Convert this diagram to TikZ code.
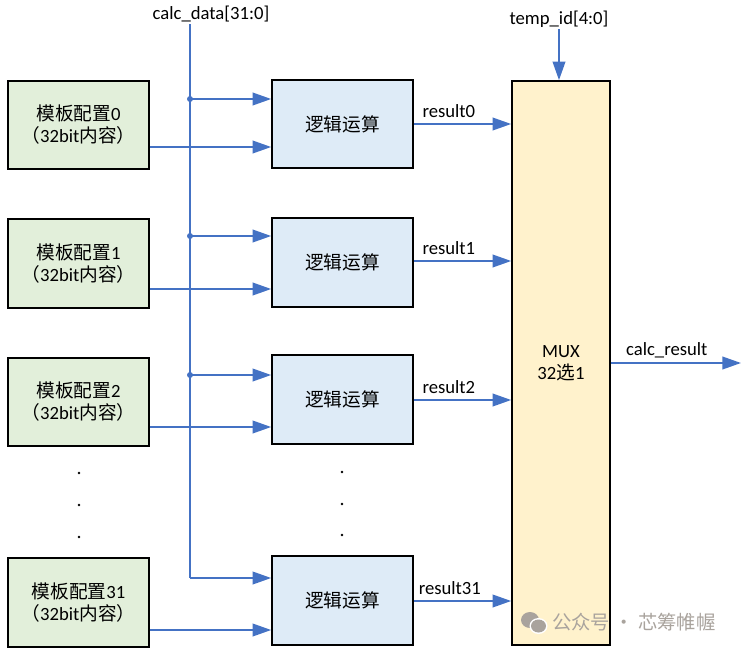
\documentclass[tikz,border=0pt]{standalone}
\usepackage{fontspec}
\setmainfont{Carlito}
\newfontfamily\cjk{Noto Sans CJK SC}
\usetikzlibrary{arrows.meta}
\definecolor{lineblue}{HTML}{4472C4}
\definecolor{cfgfill}{HTML}{E2EFDA}
\definecolor{opfill}{HTML}{DEEBF7}
\definecolor{muxfill}{HTML}{FFF2CC}
\definecolor{wmgray}{HTML}{A9A39D}
\tikzset{
  cfgbox/.style={draw=black, line width=1.2pt, fill=cfgfill, minimum width=105.75pt, minimum height=66.4pt, inner sep=0pt, align=center, font=\fontsize{14}{16.5}\selectfont},
  opbox/.style={draw=black, line width=1.2pt, fill=opfill, minimum width=105.75pt, minimum height=66.4pt, inner sep=0pt, align=center, font=\fontsize{14}{16.5}\selectfont},
  muxbox/.style={draw=black, line width=1.2pt, fill=muxfill, minimum width=73.5pt, minimum height=423pt, inner sep=0pt, align=center, font=\fontsize{14}{16.5}\selectfont},
  sig/.style={draw=lineblue, line width=1.4pt},
  arr/.style={draw=lineblue, line width=1.4pt, -{Triangle[length=14pt,width=9.5pt]}},
  lbl/.style={font=\fontsize{14}{16}\selectfont, inner sep=1pt},
  jdot/.style={circle, fill=lineblue, inner sep=0pt, minimum size=4.5pt},
  vdot/.style={circle, fill=black, inner sep=0pt, minimum size=2.2pt}
}
\begin{document}
\begin{tikzpicture}[x={(0.75pt,0)}, y={(0,-0.75pt)}]
\useasboundingbox (0,0) rectangle (742,653);

% configuration boxes
\node[cfgbox] (g0) at (78.5,125) {{\cjk 模板配置}0\\{\cjk （}32bit{\cjk 内容）}};
\node[cfgbox] (g1) at (78.5,263.5) {{\cjk 模板配置}1\\{\cjk （}32bit{\cjk 内容）}};
\node[cfgbox] (g2) at (78.5,402) {{\cjk 模板配置}2\\{\cjk （}32bit{\cjk 内容）}};
\node[cfgbox] (g31) at (78.5,602.5) {{\cjk 模板配置}31\\{\cjk （}32bit{\cjk 内容）}};

% logic boxes
\node[opbox] (m0) at (342.5,124) {\cjk 逻辑运算};
\node[opbox] (m1) at (342.5,262.5) {\cjk 逻辑运算};
\node[opbox] (m2) at (342.5,399.5) {\cjk 逻辑运算};
\node[opbox] (m31) at (342.5,600.5) {\cjk 逻辑运算};

% mux
\node[muxbox] (mux) at (561,363) {MUX\\32{\cjk 选}1};

% vertical dots
\node[vdot] (ld1) at (79,473) {};
\node[vdot] (ld2) at (79,505) {};
\node[vdot] (ld3) at (79,537) {};
\node[vdot] (md1) at (342,472) {};
\node[vdot] (md2) at (342,504) {};
\node[vdot] (md3) at (342,535) {};

% calc_data bus
\node[lbl] (cd) at (211,14) {calc\_data[31:0]};
\coordinate (bustop) at (190,24);
\coordinate (busbot) at (190,578);
\draw[sig] (bustop) -- (busbot);
\draw[arr] (busbot) -- (m31.west |- busbot);
\node[jdot] (j0) at (190,99) {};
\node[jdot] (j1) at (190,236) {};
\node[jdot] (j2) at (190,375) {};
\draw[arr] (j0.center) -- (m0.west |- j0);
\draw[arr] (j1.center) -- (m1.west |- j1);
\draw[arr] (j2.center) -- (m2.west |- j2);

% config -> logic
\draw[arr] (g0.east |- 0,147) -- (m0.west |- 0,147);
\draw[arr] (g1.east |- 0,289) -- (m1.west |- 0,289);
\draw[arr] (g2.east |- 0,427) -- (m2.west |- 0,427);
\draw[arr] (g31.east |- 0,630) -- (m31.west |- 0,630);

% results
\draw[arr] (m0.east |- 0,124) -- (mux.west |- 0,124) node[lbl, pos=0.36, above=3pt] {result0};
\draw[arr] (m1.east |- 0,261) -- (mux.west |- 0,261) node[lbl, pos=0.36, above=3pt] {result1};
\draw[arr] (m2.east |- 0,400) -- (mux.west |- 0,400) node[lbl, pos=0.36, above=3pt] {result2};
\draw[arr] (m31.east |- 0,601) -- (mux.west |- 0,601) node[lbl, pos=0.37, above=3pt] {result31};

% temp_id
\node[lbl] (tid) at (559,19) {temp\_id[4:0]};
\draw[arr] (tid.south -| 559,0) -- (559,0 |- mux.north);

% output
\coordinate (out) at (741,363);
\draw[arr] (mux.east |- out) -- (out) node[lbl, pos=0.43, above=2pt] {calc\_result};

% watermark
\fill[wmgray] (530,620) ellipse [x radius=9, y radius=8];
\fill[white] (538.5,626) ellipse [x radius=9, y radius=8];
\fill[wmgray] (538.5,626) ellipse [x radius=7.5, y radius=6.5];
\node[text=wmgray, font=\cjk\fontsize{14.5}{16}\selectfont, anchor=west, inner sep=0pt] (wm) at (552,622) {公众号 · 芯筹帷幄};
\end{tikzpicture}
\end{document}
